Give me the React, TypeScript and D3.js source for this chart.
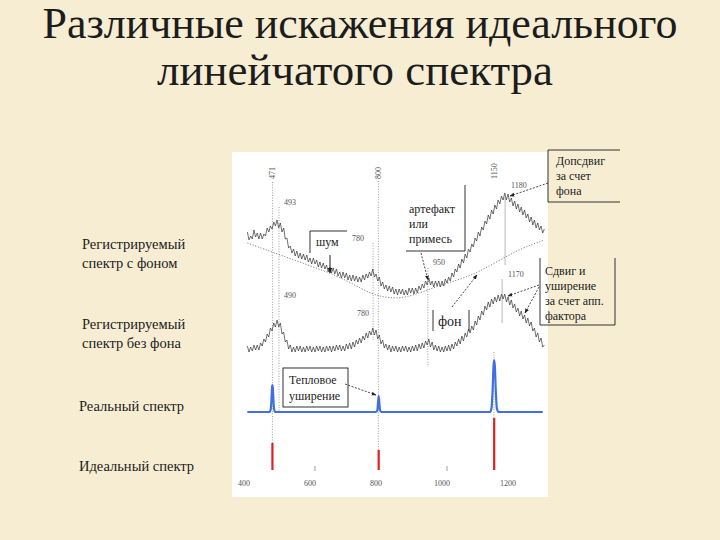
import * as d3 from 'd3';

// sample grid of the recorded spectra (wavelength units)
const wavelengths = d3.range(395, 1296, 5);

const withBackground = [
  68, 60, 64, 61, 70, 63, 67, 61, 67, 61,
  66, 64, 72, 68, 74, 71, 78, 74, 80, 72,
  77, 68, 72, 61, 62, 52, 54, 47, 51, 44,
  49, 42, 47, 41, 46, 40, 45, 38, 42, 36,
  42, 36, 40, 33, 38, 32, 37, 31, 35, 28,
  33, 27, 32, 26, 31, 24, 28, 22, 28, 22,
  27, 20, 25, 19, 25, 19, 24, 18, 23, 18,
  25, 20, 26, 22, 28, 24, 31, 23, 26, 19,
  23, 14, 18, 11, 15, 9, 14, 8, 13, 6,
  11, 5, 11, 6, 11, 5, 10, 5, 12, 7,
  12, 6, 12, 7, 14, 10, 16, 12, 19, 15,
  22, 15, 19, 13, 19, 14, 19, 13, 19, 14,
  21, 17, 23, 19, 27, 23, 31, 28, 36, 32,
  41, 37, 46, 42, 51, 48, 56, 53, 62, 59,
  68, 64, 73, 70, 79, 76, 85, 81, 90, 86,
  95, 91, 100, 96, 104, 100, 107, 100, 106, 98,
  102, 94, 99, 91, 96, 88, 93, 85, 90, 82,
  86, 78, 83, 75, 80, 72, 77, 70, 74, 67,
  71,
];

// recorded spectrum without background
const withoutBackground = [
  6, 0, 5, 1, 7, 2, 7, 2, 9, 6,
  13, 10, 18, 15, 24, 21, 29, 25, 32, 25,
  29, 18, 20, 10, 12, 3, 7, 0, 5, 0,
  6, 1, 6, 0, 5, 0, 6, 1, 6, 0,
  5, 0, 6, 1, 6, 0, 5, 0, 6, 1,
  6, 0, 6, 1, 7, 2, 7, 1, 6, 1,
  8, 3, 9, 3, 10, 5, 12, 8, 14, 9,
  16, 12, 19, 14, 21, 17, 24, 17, 22, 13,
  17, 8, 12, 4, 8, 2, 7, 0, 6, 1,
  6, 0, 5, 0, 6, 1, 6, 0, 5, 0,
  6, 1, 7, 1, 8, 3, 9, 4, 11, 7,
  13, 5, 10, 2, 7, 1, 6, 0, 5, 0,
  6, 1, 7, 1, 8, 3, 10, 6, 13, 8,
  16, 11, 19, 15, 23, 19, 26, 22, 31, 27,
  36, 32, 41, 37, 46, 42, 50, 45, 53, 48,
  55, 50, 57, 51, 58, 53, 58, 50, 55, 47,
  52, 44, 48, 40, 44, 36, 41, 33, 37, 29,
  34, 26, 30, 21, 24, 15, 19, 10, 14, 5,
  7,
];

// smooth background under the top spectrum
const backgroundCurve: [number, number][] = [
  [395, 57], [495, 45], [595, 33], [645, 27], [705, 18], [775, 5],
  [825, 2], [875, 2], [940, 10], [1010, 18], [1090, 26], [1210, 50], [1295, 60],
];

// real (broadened) spectrum
const realSpectrum: [number, number][] = [
  [395, 0], [462, 0], [466, 3], [468, 12], [470, 25], [471, 27], [472, 25], [474, 12], [476, 3], [480, 0],
  [785, 0], [789, 2], [791, 9], [793, 16], [795, 9], [797, 2], [801, 0],
  [1130, 0], [1135, 4], [1138, 20], [1141, 46], [1143, 52], [1145, 46], [1148, 20], [1151, 4], [1156, 0],
  [1290, 0],
];

// ideal line spectrum
const idealLines = [471, 793, 1143];
const idealHeights = [27, 20, 52];

const tickLabels = [400, 600, 800, 1000, 1200];
const minorTicks = [600, 1000];

const leftLabels = [
  { lines: ['Регистрируемый', 'спектр с фоном'], x: 82, y: 249 },
  { lines: ['Регистрируемый', 'спектр без фона'], x: 82, y: 329 },
  { lines: ['Реальный спектр'], x: 79, y: 411 },
  { lines: ['Идеальный спектр'], x: 79, y: 471 },
];

const guides = [
  { x: 471, y1: 182, y2: 470, dotted: true },
  { x: 491, y1: 207, y2: 412, dotted: true },
  { x: 776, y1: 243, y2: 340, dotted: true },
  { x: 792, y1: 181, y2: 470, dotted: true },
  { x: 942, y1: 268, y2: 367, dotted: true },
  { x: 1142, y1: 352, y2: 470, dotted: true },
  { x: 1176, y1: 197, y2: 265, dotted: false },
  { x: 1167, y1: 279, y2: 323, dotted: false },
];

const rotatedLabels = [
  { text: '471', x: 471 },
  { text: '800', x: 792 },
  { text: '1150', x: 1142 },
];

const pointLabels = [
  { text: '493', px: 284, py: 205 },
  { text: '780', px: 352, py: 241 },
  { text: '490', px: 284, py: 298 },
  { text: '780', px: 357, py: 316 },
  { text: '950', px: 433, py: 265 },
  { text: '1180', px: 511, py: 188 },
  { text: '1170', px: 508, py: 277 },
];

const face = { fontFamily: "'Liberation Serif', serif" };

export default function App() {
  const x = d3.scaleLinear().domain([400, 1200]).range([249, 513]);
  const yTop = d3.scaleLinear().domain([0, 100]).range([300, 200]);
  const yMid = d3.scaleLinear().domain([0, 100]).range([352, 252]);
  const yReal = d3.scaleLinear().domain([0, 100]).range([412, 312]);
  const yIdeal = d3.scaleLinear().domain([0, 100]).range([470, 370]);

  const topLine = d3.line<number>().x((_, i) => x(wavelengths[i])).y((d) => yTop(d));
  const midLine = d3.line<number>().x((_, i) => x(wavelengths[i])).y((d) => yMid(d));
  const bgLine = d3
    .line<[number, number]>()
    .x((d) => x(d[0]))
    .y((d) => yTop(d[1]))
    .curve(d3.curveBasis);
  const realLine = d3
    .line<[number, number]>()
    .x((d) => x(d[0]))
    .y((d) => yReal(d[1]))
    .curve(d3.curveMonotoneX);

  const ink = '#1c1c1c';
  const small = { fontSize: 8, fill: '#555', style: face };
  const note = { fontSize: 12, fill: ink, style: face };
  const dash = { stroke: ink, strokeWidth: 0.8, strokeDasharray: '2,1.5', markerEnd: 'url(#ah)' };

  return (
    <svg width={720} height={540} style={{ position: 'absolute', left: 0, top: 0, display: 'block' }}>
      <defs>
        <marker id="ah" viewBox="0 0 10 10" refX="9" refY="5" markerWidth="6" markerHeight="6" orient="auto">
          <path d="M0,1 L10,5 L0,9 z" fill="#222" />
        </marker>
      </defs>
      <rect width={720} height={540} fill="#f6edd3" />

      {/* title */}
      <text x={360} y={38} textAnchor="middle" fontSize={44} fill={ink} style={face}
        textLength={635} lengthAdjust="spacingAndGlyphs">
        Различные искажения идеального
      </text>
      <text x={355} y={85} textAnchor="middle" fontSize={44} fill={ink} style={face}
        textLength={396} lengthAdjust="spacingAndGlyphs">
        линейчатого спектра
      </text>

      {/* white figure panel */}
      <rect x={232} y={152} width={316} height={345} fill="#ffffff" />

      {/* left captions */}
      {leftLabels.map((l, i) => (
        <text key={i} x={l.x} y={l.y} fontSize={14.5} fill={ink} style={face}>
          {l.lines.map((s, j) => (
            <tspan key={j} x={l.x} dy={j === 0 ? 0 : 19}>{s}</tspan>
          ))}
        </text>
      ))}

      {/* guide lines */}
      {guides.map((g, i) => (
        <line key={i} x1={x(g.x)} x2={x(g.x)} y1={g.y1} y2={g.y2}
          stroke={g.dotted ? '#777' : '#999'} strokeWidth={0.7}
          strokeDasharray={g.dotted ? '1,1.6' : undefined} />
      ))}
      {rotatedLabels.map((l, i) => (
        <text key={i} transform={`translate(${x(l.x) + 3},${179}) rotate(-90)`} {...small}>{l.text}</text>
      ))}
      {pointLabels.map((l, i) => (
        <text key={i} x={l.px} y={l.py} {...small}>{l.text}</text>
      ))}

      {/* background and spectra */}
      <path d={bgLine(backgroundCurve) || ''} fill="none" stroke="#666" strokeWidth={0.8} strokeDasharray="1.2,1.6" />
      <path d={topLine(withBackground) || ''} fill="none" stroke="#333" strokeWidth={0.7} />
      <path d={midLine(withoutBackground) || ''} fill="none" stroke="#333" strokeWidth={0.7} />
      <path d={realLine(realSpectrum) || ''} fill="none" stroke="#3f6fe0" strokeWidth={2.2} />
      {idealLines.map((w, i) => (
        <line key={i} x1={x(w)} x2={x(w)} y1={yIdeal(0)} y2={yIdeal(idealHeights[i])}
          stroke="#dd2222" strokeWidth={2.2} />
      ))}

      {/* bottom axis */}
      {minorTicks.map((t) => (
        <line key={t} x1={x(t)} x2={x(t)} y1={466} y2={471} stroke="#777" strokeWidth={0.7} />
      ))}
      {tickLabels.map((t) => (
        <text key={t} x={x(t) - 5} y={486} textAnchor="middle" {...small}>{t}</text>
      ))}

      {/* annotations */}
      <path d="M310,253 V231 H347" fill="none" stroke={ink} strokeWidth={0.9} />
      <text x={316} y={246} {...note}>шум</text>
      <line x1={330} y1={255} x2={330} y2={273} stroke={ink} strokeWidth={1} markerEnd="url(#ah)" />

      <path d="M406,251 H465 V185" fill="none" stroke={ink} strokeWidth={0.9} />
      <text x={409} y={213} {...note}>
        <tspan x={409} dy={0}>артефакт</tspan>
        <tspan x={409} dy={15}>или</tspan>
        <tspan x={409} dy={15}>примесь</tspan>
      </text>
      <line x1={421} y1={253} x2={428} y2={280} {...dash} />

      <path d="M548,150 H620 M548,150 V202 M548,202 H620" fill="none" stroke={ink} strokeWidth={0.9} />
      <text x={556} y={165} {...note}>
        <tspan x={556} dy={0}>Допсдвиг</tspan>
        <tspan x={556} dy={15}>за счет</tspan>
        <tspan x={556} dy={15}>фона</tspan>
      </text>
      <line x1={548} y1={183} x2={510} y2={196} {...dash} />

      <path d="M540,258 V325 H615 V258" fill="none" stroke={ink} strokeWidth={0.9} />
      <text x={545} y={275} {...note}>
        <tspan x={545} dy={0}>Сдвиг и</tspan>
        <tspan x={545} dy={15}>уширение</tspan>
        <tspan x={545} dy={15}>за счет апп.</tspan>
        <tspan x={545} dy={15}>фактора</tspan>
      </text>
      <line x1={539} y1={285} x2={508} y2={296} {...dash} />
      <line x1={539} y1={287} x2={525} y2={313} {...dash} />

      <path d="M433,310 V331 M469,310 V331" fill="none" stroke={ink} strokeWidth={0.9} />
      <text x={438} y={326} fontSize={14} fill={ink} style={face}>фон</text>
      <line x1={452} y1={307} x2={477} y2={275} {...dash} />

      <rect x={283} y={368} width={65} height={39} fill="#fff" stroke={ink} strokeWidth={0.9} />
      <text x={289} y={384} {...note}>
        <tspan x={289} dy={0}>Тепловое</tspan>
        <tspan x={289} dy={16}>уширение</tspan>
      </text>
      <line x1={345} y1={384} x2={376} y2={395} {...dash} />
    </svg>
  );
}
